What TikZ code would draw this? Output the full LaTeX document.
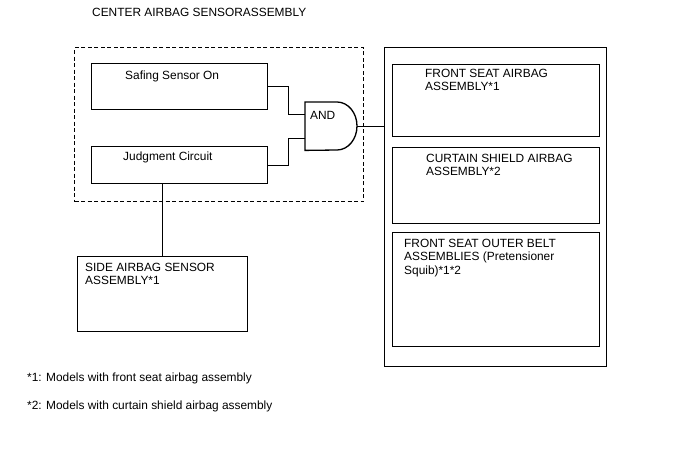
\documentclass[tikz,border=0pt]{standalone}
\usepackage{fontspec}
\setmainfont{Liberation Sans}
\usetikzlibrary{positioning,calc}
\tikzset{
  unitbox/.style={draw,line width=1.3pt,inner sep=0pt,anchor=north west},
  lbl/.style={inner sep=0pt,anchor=north west,align=left,font=\fontsize{11.9}{13.8}\selectfont},
  wire/.style={line width=1.3pt}
}

\begin{document}
\begin{tikzpicture}[x=1pt,y=-1pt]
  \useasboundingbox (0,0) rectangle (688,463);
  \node[lbl] (title) at (92,7.5) {CENTER AIRBAG SENSORASSEMBLY};
  \node[unitbox,dash pattern=on 4pt off 2.5pt,minimum width=289,minimum height=154] (center) at (74,47) {};
  \node[unitbox,minimum width=176,minimum height=46] (safing) at (91,63) {};
  \node[unitbox,minimum width=176,minimum height=37] (judge) at (91,146) {};
  \node[lbl] (safingtxt) at ([xshift=34pt,yshift=-7.5pt]safing.north west) {Safing Sensor On};
  \node[lbl] (judgetxt) at ([xshift=32pt,yshift=-5.5pt]judge.north west) {Judgment Circuit};
  \node[inner sep=0pt,minimum width=52,minimum height=48,anchor=north west] (gate) at (305,102) {};
  \draw[wire] (gate.north west) -- ++(32,0) arc[start angle=90,end angle=-90,x radius=20pt,y radius=24pt] -- (gate.south west) -- cycle;
  \node[lbl] (gatetxt) at ([xshift=5pt,yshift=-9.5pt]gate.north west) {AND};
  \draw[wire] (safing.east) -- ++(20,0) |- ([yshift=12pt]gate.west);
  \draw[wire] (judge.east) -- ++(20,0) |- ([yshift=-12pt]gate.west);

  \node[unitbox,minimum width=170,minimum height=75] (side) at (77,256) {};
  \node[lbl] (sidetxt) at ([xshift=8pt,yshift=-6.5pt]side.north west) {SIDE AIRBAG SENSOR\\ASSEMBLY*1};
  \draw[wire] (side.north) -- (side.north |- judge.south);

  \node[unitbox,minimum width=222,minimum height=319] (outputs) at (384,47) {};
  \node[unitbox,minimum width=207,minimum height=72] (frontbag) at (392,64) {};
  \node[unitbox,minimum width=207,minimum height=76] (curtain) at (392,147) {};
  \node[unitbox,minimum width=207,minimum height=114] (belt) at (392,232) {};
  \node[lbl] (fronttxt) at ([xshift=33pt,yshift=-4.5pt]frontbag.north west) {FRONT SEAT AIRBAG\\ASSEMBLY*1};
  \node[lbl] (curtaintxt) at ([xshift=34pt,yshift=-6.5pt]curtain.north west) {CURTAIN SHIELD AIRBAG\\ASSEMBLY*2};
  \node[lbl] (belttxt) at ([xshift=12pt,yshift=-6.5pt]belt.north west) {FRONT SEAT OUTER BELT\\ASSEMBLIES (Pretensioner\\Squib)*1*2};
  \draw[wire] (gate.east) -- (outputs.west |- gate.east);

  \node[lbl] (note1) at (27,372.5) {*1: Models with front seat airbag assembly};
  \node[lbl] (note2) at (27,400.5) {*2: Models with curtain shield airbag assembly};
\end{tikzpicture}
\end{document}
